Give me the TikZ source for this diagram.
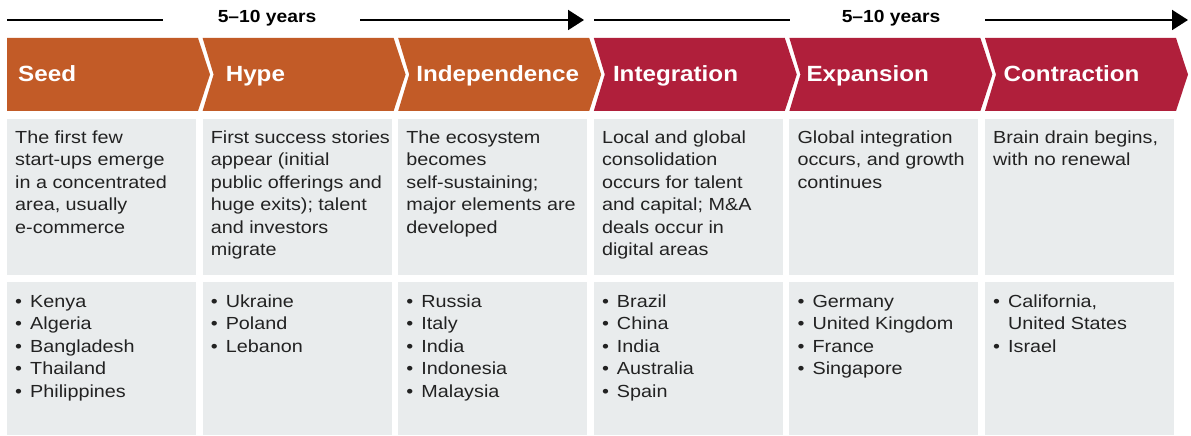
\documentclass[tikz,border=0pt]{standalone}
\usepackage{fontspec}
\setmainfont[FakeStretch=1.1]{Liberation Sans}
\newfontfamily\descfont[FakeStretch=1.13]{Liberation Sans}
\usetikzlibrary{arrows.meta}
\definecolor{seedorange}{HTML}{C25B27}
\definecolor{stagered}{HTML}{B01F3B}
\definecolor{panelgray}{HTML}{E9ECED}
\definecolor{inkdark}{HTML}{222222}
\newcommand\bul{\makebox[15bp][l]{\textbullet}}
\newcommand\fl{\rule{0pt}{14bp}}
\begin{document}
\begin{tikzpicture}[x=1bp,y=-1bp,
  title/.style={anchor=base west,inner sep=0,text=white,font=\fontsize{22bp}{26bp}\selectfont\bfseries},
  desc/.style={anchor=north west,inner sep=0,align=left,text=inkdark,font=\descfont\fontsize{17.5bp}{22.5bp}\selectfont},
  yrs/.style={inner sep=0,anchor=base,font=\fontsize{17.5bp}{21bp}\selectfont\bfseries,text=black},
  timeline/.style={line width=2bp,draw=black},
  tipped/.style={timeline,-{Triangle[length=16bp,width=20bp]}},
]
\useasboundingbox (0,0) rectangle (1191,436);

% chevrons and panels
\foreach \i/\col in {0/seedorange,1/seedorange,2/seedorange,3/stagered,4/stagered,5/stagered} {
  \pgfmathsetmacro\xa{7+195.6*\i}
  \pgfmathsetmacro\nd{\i==0 ? 0 : 11}
  \fill[\col] (\xa,38) -- ({\xa+191},38) -- ({\xa+203},74.5) -- ({\xa+191},111) -- (\xa,111) -- ({\xa+\nd},74.5) -- cycle;
  \fill[panelgray] (\xa,119) rectangle ({\xa+189},275);
  \fill[panelgray] (\xa,282) rectangle ({\xa+189},435);
}

% timeline
\coordinate (a1) at (7,20);
\coordinate (a2) at (163,20);
\coordinate (a3) at (360,20);
\coordinate (a4) at (584,20);
\coordinate (b1) at (594,20);
\coordinate (b2) at (790,20);
\coordinate (b3) at (985,20);
\coordinate (b4) at (1188,20);
\node[yrs] (y1) at (267,23) {5–10 years};
\node[yrs] (y2) at (891,23) {5–10 years};
\draw[timeline] (a1) -- (a2);
\draw[tipped] (a3) -- (a4);
\draw[timeline] (b1) -- (b2);
\draw[tipped] (b3) -- (b4);

% titles
\node[title] (t0) at (18,82) {Seed};
\node[title] (t1) at (225.6,82) {Hype};
\node[title] (t2) at (416.2,82) {Independence};
\node[title] (t3) at (612.8,82) {Integration};
\node[title] (t4) at (806.4,82) {Expansion};
\node[title] (t5) at (1003.5,82) {Contraction};

% descriptions
\node[desc] (d0) at (15,129) {\fl The first few\\start-ups emerge\\in a concentrated\\area, usually\\e-commerce};
\node[desc] (d1) at (210.6,129) {\fl First success stories\\appear (initial\\public offerings and\\huge exits); talent\\and investors\\migrate};
\node[desc] (d2) at (406.2,129) {\fl The ecosystem\\becomes\\self-sustaining;\\major elements are\\developed};
\node[desc] (d3) at (601.8,129) {\fl Local and global\\consolidation\\occurs for talent\\and capital; M\&A\\deals occur in\\digital areas};
\node[desc] (d4) at (797.4,129) {\fl Global integration\\occurs, and growth\\continues};
\node[desc] (d5) at (993,129) {\fl Brain drain begins,\\with no renewal};

% countries
\node[desc] (c0) at (15,293) {\fl\bul Kenya\\\bul Algeria\\\bul Bangladesh\\\bul Thailand\\\bul Philippines};
\node[desc] (c1) at (210.6,293) {\fl\bul Ukraine\\\bul Poland\\\bul Lebanon};
\node[desc] (c2) at (406.2,293) {\fl\bul Russia\\\bul Italy\\\bul India\\\bul Indonesia\\\bul Malaysia};
\node[desc] (c3) at (601.8,293) {\fl\bul Brazil\\\bul China\\\bul India\\\bul Australia\\\bul Spain};
\node[desc] (c4) at (797.4,293) {\fl\bul Germany\\\bul United Kingdom\\\bul France\\\bul Singapore};
\node[desc] (c5) at (993,293) {\fl\bul California,\\\hspace*{15bp}United States\\\bul Israel};
\end{tikzpicture}
\end{document}
